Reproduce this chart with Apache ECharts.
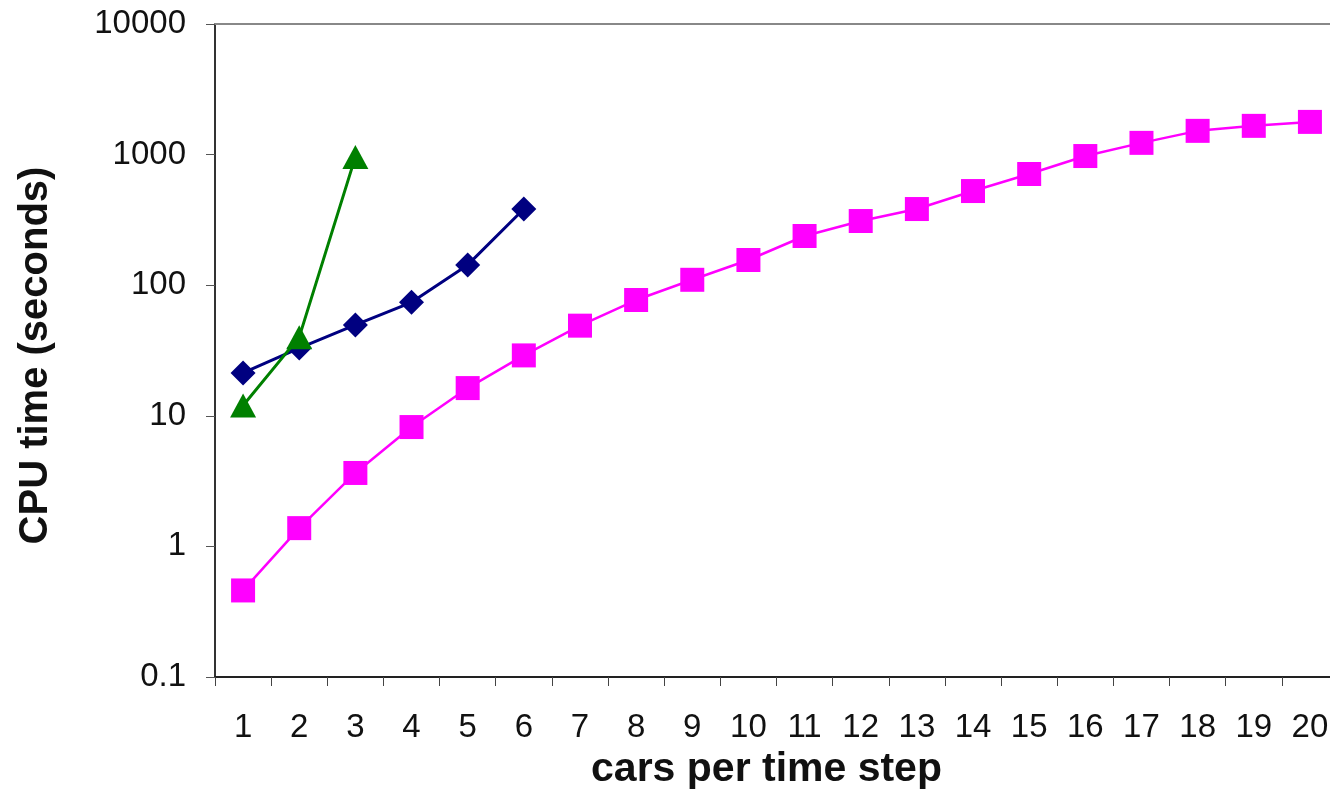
<!DOCTYPE html>
<html>
<head>
<meta charset="utf-8">
<script src="https://cdn.jsdelivr.net/npm/echarts@6/dist/echarts.min.js"></script>
<style>
html,body{margin:0;padding:0;background:#fff;}
#chart{width:1330px;height:800px;}
</style>
</head>
<body>
<div id="chart"></div>
<script>
const categories = ['1','2','3','4','5','6','7','8','9','10','11','12','13','14','15','16','17','18','19','20'];
const magentaSquares = [0.46, 1.38, 3.65, 8.2, 16.3, 29, 49, 77, 110, 156, 238, 310, 383, 526, 710, 975, 1230, 1520, 1660, 1780];
const navyDiamonds = [21.3, 33, 49.6, 74, 143, 383];
const greenTriangles = [12, 40, 960];
const yTickLabels = ['0.1', '1', '10', '100', '1000', '10000'];
const xAxisTitle = 'cars per time step';
const yAxisTitle = 'CPU time (seconds)';

const FONT = '"Liberation Sans", Arial, sans-serif';
const chart = echarts.init(document.getElementById('chart'), null, {renderer: 'canvas'});

function yLabel(v) {
  const idx = Math.round(Math.log10(v)) + 1;
  return yTickLabels[idx] !== undefined ? yTickLabels[idx] : '';
}

chart.setOption({
  animation: false,
  backgroundColor: '#ffffff',
  grid: {left: 215, top: 24, right: -8, bottom: 123, containLabel: false, outerBoundsMode: 'none'},
  xAxis: [{
    type: 'category',
    data: categories,
    boundaryGap: true,
    name: xAxisTitle,
    nameLocation: 'middle',
    nameGap: 68,
    nameTextStyle: {fontFamily: FONT, fontSize: 41, fontWeight: 'bold', color: '#111', padding: [0, 20, 0, 0]},
    axisLine: {show: true, lineStyle: {color: '#222', width: 2}},
    axisTick: {show: true, length: 9, lineStyle: {color: '#444', width: 1}},
    axisLabel: {fontFamily: FONT, fontSize: 33, color: '#111', margin: 34},
    splitLine: {show: false}
  }, {
    type: 'category',
    data: categories,
    position: 'top',
    axisLine: {show: true, lineStyle: {color: '#888', width: 2}},
    axisTick: {show: false},
    axisLabel: {show: false},
    splitLine: {show: false}
  }],
  yAxis: {
    type: 'log',
    logBase: 10,
    min: 0.1,
    max: 10000,
    name: yAxisTitle,
    nameLocation: 'middle',
    nameGap: 159,
    nameRotate: 90,
    nameTextStyle: {fontFamily: FONT, fontSize: 40, fontWeight: 'bold', color: '#111', padding: [0, 10, 0, 0]},
    axisLine: {show: true, onZero: false, lineStyle: {color: '#333', width: 2}},
    axisTick: {show: true, length: 9, lineStyle: {color: '#555', width: 1}},
    axisLabel: {fontFamily: FONT, fontSize: 33, color: '#111', margin: 29, formatter: yLabel},
    splitLine: {show: false}
  },
  series: [{
    name: 'squares',
    type: 'line',
    data: magentaSquares,
    symbol: 'rect',
    symbolSize: 24,
    itemStyle: {color: '#ff00ff'},
    lineStyle: {color: '#ff00ff', width: 2.5},
    z: 2
  }, {
    name: 'diamonds',
    type: 'line',
    data: navyDiamonds,
    symbol: 'diamond',
    symbolSize: 25,
    itemStyle: {color: '#000080'},
    lineStyle: {color: '#000080', width: 3},
    z: 3
  }, {
    name: 'triangles',
    type: 'line',
    data: greenTriangles,
    symbol: 'triangle',
    symbolSize: [26, 24],
    itemStyle: {color: '#008000'},
    lineStyle: {color: '#008000', width: 3},
    z: 4
  }]
});
</script>
</body>
</html>
